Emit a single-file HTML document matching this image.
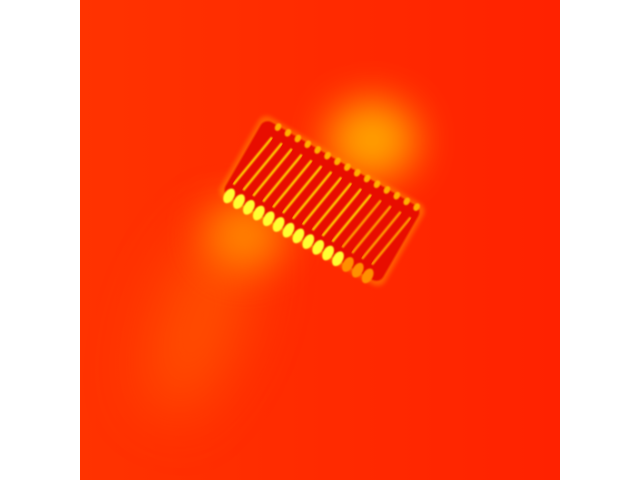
<!DOCTYPE html>
<html><head><meta charset="utf-8"><style>
html,body{margin:0;padding:0;background:#fff;width:640px;height:480px;overflow:hidden}
svg{display:block}
</style></head><body>
<svg width="640" height="480" viewBox="0 0 640 480">
<defs>
<filter id="b30" x="-100%" y="-100%" width="300%" height="300%"><feGaussianBlur stdDeviation="30"/></filter>
<filter id="b20" x="-100%" y="-100%" width="300%" height="300%"><feGaussianBlur stdDeviation="20"/></filter>
<filter id="b2"><feGaussianBlur stdDeviation="2"/></filter>
<filter id="b1"><feGaussianBlur stdDeviation="0.9"/></filter>
<clipPath id="clip"><rect x="80" y="0" width="480" height="480"/></clipPath>
<linearGradient id="bg" x1="0" y1="0" x2="1" y2="0">
<stop offset="0" stop-color="#ff3300"/><stop offset="1" stop-color="#ff2200"/>
</linearGradient>
</defs>
<g clip-path="url(#clip)">
<rect x="80" y="0" width="480" height="480" fill="url(#bg)"/>
<ellipse cx="200" cy="320" rx="40" ry="100" transform="rotate(20 200 320)" fill="#ff6a00" opacity="0.55" filter="url(#b30)"/>
<ellipse cx="245" cy="235" rx="40" ry="35" fill="#ff9a00" opacity="0.8" filter="url(#b20)"/>
<ellipse cx="372" cy="140" rx="45" ry="40" fill="#ffb000" opacity="0.9" filter="url(#b20)"/>
<g transform="translate(322,201) rotate(30)">
<rect x="-95" y="-47" width="190" height="94" rx="9" fill="#ff8000" opacity="0.6" filter="url(#b2)"/>
<rect x="-91" y="-43" width="182" height="86" rx="8" fill="#e81000" filter="url(#b1)"/>
<g id="fins"></g>
</g>
</g>
<script>
const finCount = 15;
const g = document.getElementById('fins');
const ns = 'http://www.w3.org/2000/svg';
for (let i = 0; i < finCount; i++) {
  const x = -80 + i * (160 / (finCount - 1));
  const l = document.createElementNS(ns, 'line');
  l.setAttribute('x1', x + 5); l.setAttribute('y1', -30);
  l.setAttribute('x2', x - 5); l.setAttribute('y2', 30);
  l.setAttribute('stroke', i > 10 ? '#ff9a00' : '#ffc800');
  l.setAttribute('stroke-width', '2.5');
  l.setAttribute('filter', 'url(#b1)');
  
  
  g.appendChild(l);
  const t = document.createElementNS(ns, 'ellipse');
  t.setAttribute('cx', x - 3); t.setAttribute('cy', 42);
  t.setAttribute('rx', 5); t.setAttribute('ry', 8);
  t.setAttribute('fill', i > 11 ? '#ff9000' : '#ffff30');
  t.setAttribute('filter', 'url(#b1)');
  
  
  g.appendChild(t);
  const d = document.createElementNS(ns, 'ellipse');
  d.setAttribute('cx', x + 5); d.setAttribute('cy', -42);
  d.setAttribute('rx', 3); d.setAttribute('ry', 4);
  d.setAttribute('fill', '#ffb000');
  d.setAttribute('filter', 'url(#b1)');
  
  
  g.appendChild(d);
}
</script>
</svg>
</body></html>
